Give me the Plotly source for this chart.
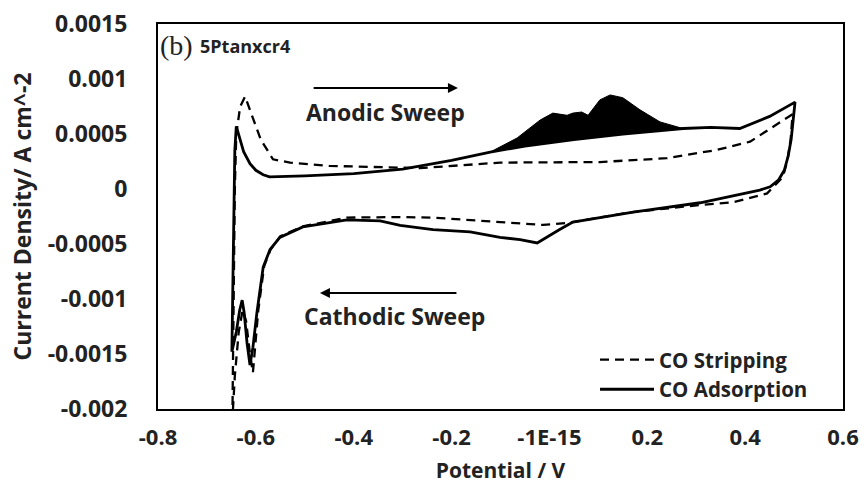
import plotly.graph_objects as go

# ---- data ----
ads_x = [-0.649, -0.647, -0.645, -0.643, -0.640, -0.634, -0.625, -0.612, -0.600, -0.585, -0.572,
         -0.50, -0.40, -0.30, -0.20, -0.121, -0.05, 0.05, 0.15, 0.273, 0.33, 0.389, 0.45, 0.502,
         0.498, 0.494, 0.488, 0.480, 0.468, 0.451, 0.43, 0.308, 0.171, 0.048, 0.02, -0.025,
         -0.06, -0.101, -0.162, -0.238, -0.305, -0.346, -0.414, -0.504, -0.551, -0.571, -0.585,
         -0.598, -0.606, -0.612, -0.618, -0.624, -0.628, -0.633, -0.640, -0.649]
ads_y = [-0.00148, -0.0008, -0.0001, 0.00035, 0.00057, 0.00047, 0.00034, 0.00023, 0.00017, 0.00013, 0.00011,
         0.00012, 0.00014, 0.00018, 0.00026, 0.000336, 0.00039, 0.00045, 0.0005, 0.00055, 0.00056, 0.00055, 0.00066, 0.00079,
         0.00062, 0.00045, 0.00030, 0.00017, 0.00008, 0.00002, -0.00001, -0.000125, -0.00021, -0.0003, -0.00037, -0.00049,
         -0.00046, -0.00044, -0.00039, -0.00037, -0.00033, -0.00029, -0.00028, -0.000345, -0.00044, -0.00055, -0.00071,
         -0.00113, -0.00144, -0.00160, -0.00140, -0.00112, -0.00101, -0.00110, -0.00130, -0.00148]

strip_x = [-0.648, -0.646, -0.643, -0.640, -0.632, -0.622, -0.610, -0.590, -0.565, -0.530, -0.45,
           -0.346, -0.265, -0.101, 0.103, 0.24, 0.342, 0.41, 0.471, 0.497,
           0.493, 0.486, 0.477, 0.445, 0.375, 0.308, 0.17, 0.035, -0.013, -0.101, -0.238, -0.305,
           -0.346, -0.414, -0.504, -0.550, -0.570, -0.583, -0.595, -0.603, -0.606, -0.612, -0.620,
           -0.627, -0.635, -0.643, -0.648]
strip_y = [-0.0021, -0.001, 0.0, 0.0005, 0.00075, 0.00084, 0.0007, 0.00045, 0.00027, 0.00024, 0.00021,
           0.0002, 0.00019, 0.00024, 0.000245, 0.00028, 0.000355, 0.00043, 0.0006, 0.00068,
           0.00045, 0.00025, 0.00011, -0.00004, -0.00012, -0.000145, -0.00021, -0.00031, -0.000327, -0.0003, -0.00026, -0.000255,
           -0.000255, -0.00026, -0.00034, -0.00043, -0.00055, -0.0007, -0.0011, -0.0015, -0.00167, -0.0015, -0.0012,
           -0.0011, -0.0013, -0.0017, -0.0021]

# CO oxidation charge (filled region between peaks and baseline)
peak_x = [-0.121, -0.066, -0.019, 0.007, 0.036, 0.048, 0.066, 0.079, 0.103, 0.124, 0.15, 0.185, 0.226, 0.273,
          0.15, 0.05, -0.05, -0.121]
peak_y = [0.000336, 0.000464, 0.000627, 0.00069, 0.00067, 0.00069, 0.0007, 0.00067, 0.00081, 0.000855, 0.00083,
          0.00072, 0.00061, 0.00055, 0.0005, 0.00045, 0.00039, 0.000336]

x_ticks = [-0.8, -0.6, -0.4, -0.2, 0.0, 0.2, 0.4, 0.6]
x_ticktext = ["-0.8", "-0.6", "-0.4", "-0.2", "-1E-15", "0.2", "0.4", "0.6"]
y_ticks = [0.0015, 0.001, 0.0005, 0.0, -0.0005, -0.001, -0.0015, -0.002]
y_ticktext = ["0.0015", "0.001", "0.0005", "0", "-0.0005", "-0.001", "-0.0015", "-0.002"]

FONT = "Open Sans"
INK = "#222"
def f(size, family=FONT, weight="bold"):
    return dict(size=size, family=family, weight=weight, color=INK)

fig = go.Figure()
fig.add_trace(go.Scatter(x=peak_x, y=peak_y, mode="lines", fill="toself", fillcolor="black",
                         line=dict(color="black", width=1), showlegend=False, hoverinfo="skip"))
fig.add_trace(go.Scatter(x=strip_x, y=strip_y, mode="lines", name="CO Stripping",
                         line=dict(color="black", width=2.3, dash="9px,6px")))
fig.add_trace(go.Scatter(x=ads_x, y=ads_y, mode="lines", name="CO Adsorption",
                         line=dict(color="black", width=2.8)))

fig.update_layout(
    width=866, height=490,
    margin=dict(l=158, r=23, t=24, b=81, autoexpand=False),
    plot_bgcolor="white", paper_bgcolor="white",
    font=f(20),
    showlegend=True,
    legend=dict(x=0.638, y=-0.002, xanchor="left", yanchor="bottom", bgcolor="rgba(0,0,0,0)",
                font=f(20.5), itemwidth=54, tracegroupgap=0),
)
fig.update_xaxes(range=[-0.8, 0.6], tickvals=x_ticks, ticktext=x_ticktext, showgrid=False,
                 zeroline=False, showline=True, linecolor="black", linewidth=2, mirror=True,
                 ticks="", ticklabelstandoff=8, tickfont=f(22), automargin=False,
                 title=dict(text="Potential / V", font=f(21), standoff=13))
fig.update_yaxes(range=[-0.002, 0.0015], tickvals=y_ticks, ticktext=y_ticktext, showgrid=False,
                 zeroline=False, showline=True, linecolor="black", linewidth=2, mirror=True,
                 ticks="", ticklabelstandoff=24, tickfont=f(23), automargin=False,
                 title=dict(text="Current Density/ A cm^-2", font=f(23), standoff=10))

# sweep arrows and labels
fig.add_annotation(x=-0.187, y=0.000918, ax=-0.485, ay=0.000918, xref="x", yref="y", axref="x", ayref="y",
                   showarrow=True, arrowhead=2, arrowsize=1, arrowwidth=2, arrowcolor="black", text="")
fig.add_annotation(x=-0.335, y=0.0007, xref="x", yref="y", text="Anodic Sweep", showarrow=False,
                   font=f(23))
fig.add_annotation(x=-0.469, y=-0.000945, ax=-0.187, ay=-0.000945, xref="x", yref="y", axref="x", ayref="y",
                   showarrow=True, arrowhead=2, arrowsize=1, arrowwidth=2, arrowcolor="black", text="")
fig.add_annotation(x=-0.316, y=-0.00115, xref="x", yref="y", text="Cathodic Sweep", showarrow=False,
                   font=f(23))

# panel title
fig.add_annotation(x=0.0, y=0.943, xref="paper", yref="paper", xanchor="left", yanchor="middle",
                   text="(b)", showarrow=False, font=f(28, "Liberation Serif", "normal"))
fig.add_annotation(x=0.058, y=0.943, xref="paper", yref="paper", xanchor="left", yanchor="middle",
                   text="5Ptanxcr4", showarrow=False, font=f(18))

fig.write_html("out.html", config={"displayModeBar": False},
               post_script="document.body.style.margin='0';document.body.style.overflow='hidden';")
